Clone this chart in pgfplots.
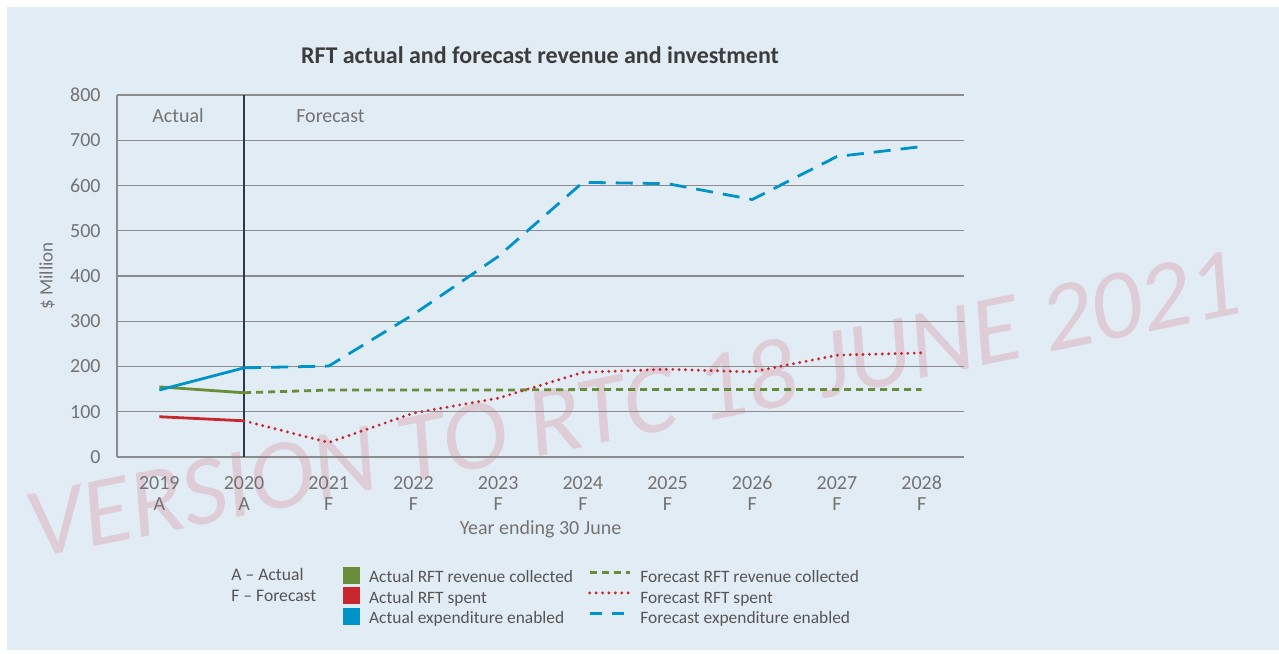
\documentclass[border=0pt]{standalone}
\usepackage{fontspec}
\setmainfont{Carlito}
\usepackage{pgfplots}
\pgfplotsset{compat=1.18}
\definecolor{bgblue}{RGB}{226,236,245}
\definecolor{rftblue}{RGB}{0,147,201}
\definecolor{rftgreen}{RGB}{104,142,58}
\definecolor{rftred}{RGB}{200,40,45}
\definecolor{navy}{RGB}{42,56,86}
\definecolor{gridgray}{RGB}{140,140,140}
\definecolor{tickgray}{RGB}{115,115,115}
\definecolor{leggray}{RGB}{85,85,85}
\definecolor{titlec}{RGB}{60,60,60}
\definecolor{wm}{RGB}{222,204,214}
\newcommand{\yl}[2]{\begin{tabular}{@{}c@{}}#1\\#2\end{tabular}}
\pgfplotsset{
  sqleg/.style={legend image code/.code={\path[draw=none,fill=none] (0pt,-3pt) rectangle (8.5pt,7.5pt);\fill[##1] (0pt,-2.9pt) rectangle (8.5pt,5.6pt);}},
  lnleg/.style={legend image code/.code={\path[draw=none,fill=none] (0pt,-3pt) rectangle (20pt,7.5pt);\draw[##1] (0pt,2.8pt) -- (20pt,2.8pt);}},
}
\begin{document}
\begin{tikzpicture}[x=0.5pt,y=0.5pt]
\fill[white] (0,0) rectangle (1279,653);
\fill[bgblue] (7,3) rectangle (1279,646);
\node[rotate=11.5, text=wm, font=\fontsize{49.5}{50}\selectfont\itshape] at (633,250) {VERSION TO RTC 18 JUNE 2021};
\node[font=\bfseries\fontsize{12}{14}\selectfont, text=titlec] at (540,598) {RFT actual and forecast revenue and investment};
\node[anchor=base west, inner sep=0pt, font=\fontsize{8.8}{11}\selectfont, text=leggray] at (231,72) {A – Actual};
\node[anchor=base west, inner sep=0pt, font=\fontsize{8.8}{11}\selectfont, text=leggray] at (231,52) {F – Forecast};
\begin{axis}[
  at={(58.5pt,98pt)}, anchor=south west,
  scale only axis, width=423.5pt, height=181pt,
  xmin=-0.5, xmax=9.5, ymin=0, ymax=800,
  xtick={0,...,9},
  xticklabels={\yl{2019}{A},\yl{2020}{A},\yl{2021}{F},\yl{2022}{F},\yl{2023}{F},\yl{2024}{F},\yl{2025}{F},\yl{2026}{F},\yl{2027}{F},\yl{2028}{F}},
  ytick={0,100,...,800},
  axis x line*=bottom, axis y line*=left,
  axis line style={gridgray, line width=0.7pt},
  ymajorgrids, grid style={gridgray, line width=0.7pt},
  major tick length=0pt,
  /pgf/number format/assume math mode=true,
  tick label style={font=\fontsize{10}{10.5}\selectfont, text=tickgray},
  xticklabel style={anchor=north, inner sep=0pt, yshift=-8.5pt},
  yticklabel style={anchor=east, inner sep=0pt, xshift=-8pt},
  xlabel={Year ending 30 June},
  xlabel style={at={(axis description cs:0.5,-0.199)}, anchor=center, font=\fontsize{10}{12}\selectfont, text=tickgray},
  ylabel={\$ Million},
  ylabel style={at={(axis description cs:-0.0826,0.5)}, anchor=center, font=\fontsize{9.5}{12}\selectfont, text=tickgray},
  legend style={at={(axis description cs:0.267,-0.2934)}, anchor=north west, draw=none, fill=none,
    inner sep=0pt, outer sep=0pt, row sep=-2.6pt,
    nodes={inner sep=0pt, text height=7.5pt, text depth=3pt, font=\fontsize{8.7}{10}\selectfont, text=leggray},
    /tikz/every odd column/.append style={column sep=4.5pt},
    /tikz/every even column/.append style={column sep=7.5pt}},
  legend columns=2, legend cell align=left,
  clip=false,
]
\addlegendimage{sqleg, fill=rftgreen, draw=none}
\addlegendentry{Actual RFT revenue collected}
\addlegendimage{lnleg, rftgreen, line width=1.4pt, dash pattern=on 3.5pt off 2.5pt}
\addlegendentry{Forecast RFT revenue collected}
\addlegendimage{sqleg, fill=rftred, draw=none}
\addlegendentry{Actual RFT spent}
\addlegendimage{lnleg, rftred, line width=1.6pt, line cap=round, dash pattern=on 0pt off 3.2pt}
\addlegendentry{Forecast RFT spent}
\addlegendimage{sqleg, fill=rftblue, draw=none}
\addlegendentry{Actual expenditure enabled}
\addlegendimage{lnleg, rftblue, line width=1.4pt, dash pattern=on 6pt off 5pt}
\addlegendentry{Forecast expenditure enabled}

\node[font=\fontsize{10}{12}\selectfont, text=tickgray] at (axis cs:0.22,754) {Actual};
\node[font=\fontsize{10}{12}\selectfont, text=tickgray] at (axis cs:2.02,754) {Forecast};

% vertical divider at 2020
\addplot[forget plot, navy, line width=1.3pt] coordinates {(1,0) (1,800)};

% forecast lines
\addplot[forget plot, rftgreen, line width=1.4pt, dash pattern=on 3.5pt off 2.5pt] coordinates {
(1,142) (2,148) (3,148) (4,148) (5,149) (6,149) (7,149) (8,149) (9,149)};
\addplot[forget plot, rftred, line width=1.6pt, line cap=round, dash pattern=on 0pt off 3.2pt] coordinates {
(1,80) (2,32) (3,97) (4,130) (5,187) (6,194) (7,188) (8,225) (9,230)};
\addplot[forget plot, rftblue, line width=1.4pt, dash pattern=on 8.5pt off 5pt] coordinates {
(1,197) (2,201) (3,315) (4,443) (5,607) (6,604) (7,569) (8,664) (9,686)};
% actual lines
\addplot[forget plot, rftgreen, line width=1.4pt] coordinates {(0,155) (1,142)};
\addplot[forget plot, rftred, line width=1.4pt] coordinates {(0,89) (1,80)};
\addplot[forget plot, rftblue, line width=1.4pt] coordinates {(0,148) (1,197)};
\end{axis}
\end{tikzpicture}
\end{document}
